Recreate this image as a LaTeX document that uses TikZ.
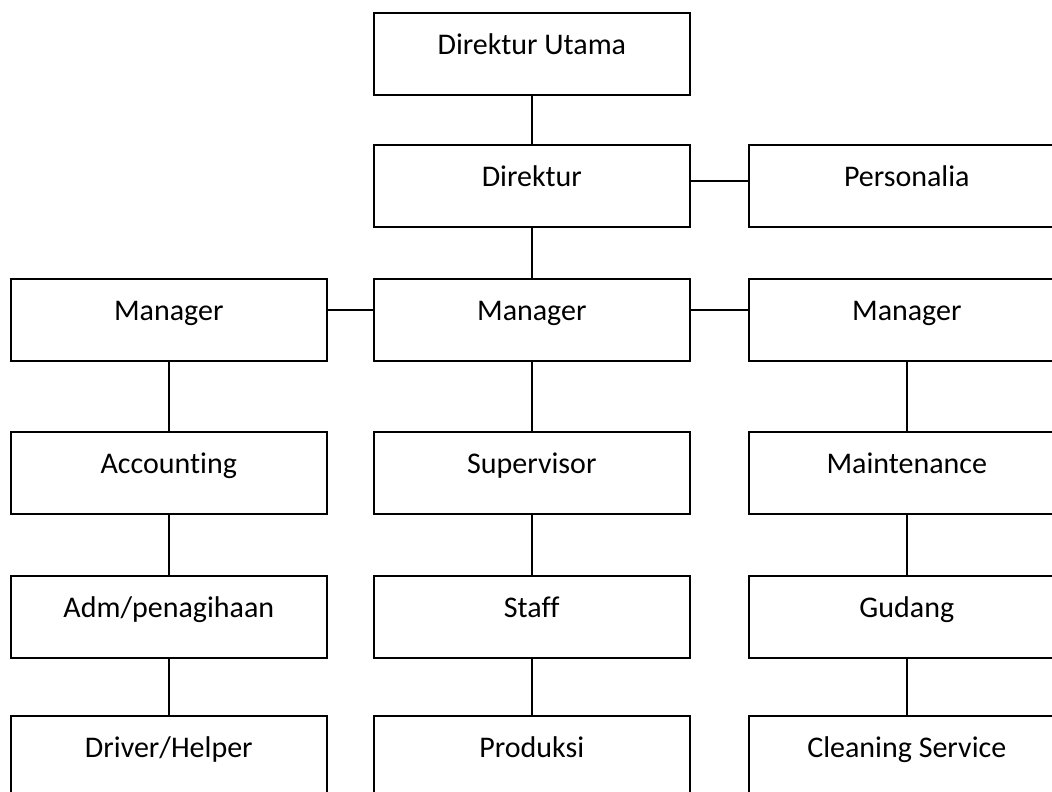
\documentclass[tikz,border=0pt]{standalone}
\usepackage{fontspec}
\setmainfont[Ligatures=NoCommon]{Carlito}
\begin{document}
\begin{tikzpicture}[x=1pt,y=-1pt,
  box/.style={draw=black,line width=1.6pt,anchor=north west,inner sep=0pt,
    minimum width=316pt,text height=42pt,text depth=40pt,font=\fontsize{30}{35}\selectfont},
  conn/.style={draw=black,line width=1.6pt}]
\useasboundingbox (0,0) rectangle (1052,792);
\clip (0,0) rectangle (1052,792);
% row 1
\node[box] (du) at (373,12) {Direktur Utama};
% row 2
\node[box] (d) at (373,144) {Direktur};
\node[box] (p) at (748,144) {Personalia};
% row 3
\node[box] (ml) at (10,278) {Manager};
\node[box] (mc) at (373,278) {Manager};
\node[box] (mr) at (748,278) {Manager};
% row 4
\node[box] (acc) at (10,431) {Accounting};
\node[box] (sup) at (373,431) {Supervisor};
\node[box] (mai) at (748,431) {Maintenance};
% row 5
\node[box] (adm) at (10,575) {Adm/penagihaan};
\node[box] (sta) at (373,575) {Staff};
\node[box] (gud) at (748,575) {Gudang};
% row 6
\node[box] (drv) at (10,715) {Driver/Helper};
\node[box] (pro) at (373,715) {Produksi};
\node[box] (cln) at (748,715) {Cleaning Service};
% connectors
\draw[conn] (du.south) -- (d.north);
\draw[conn] (d.south) -- (mc.north);
\draw[conn] ([yshift=5pt]d.east) -- ([yshift=5pt]p.west);
\draw[conn] ([yshift=10pt]ml.east) -- ([yshift=10pt]mc.west);
\draw[conn] ([yshift=10pt]mc.east) -- ([yshift=10pt]mr.west);
\draw[conn] (ml.south) -- (acc.north);
\draw[conn] (acc.south) -- (adm.north);
\draw[conn] (adm.south) -- (drv.north);
\draw[conn] (mc.south) -- (sup.north);
\draw[conn] (sup.south) -- (sta.north);
\draw[conn] (sta.south) -- (pro.north);
\draw[conn] (mr.south) -- (mai.north);
\draw[conn] (mai.south) -- (gud.north);
\draw[conn] (gud.south) -- (cln.north);
\end{tikzpicture}
\end{document}
